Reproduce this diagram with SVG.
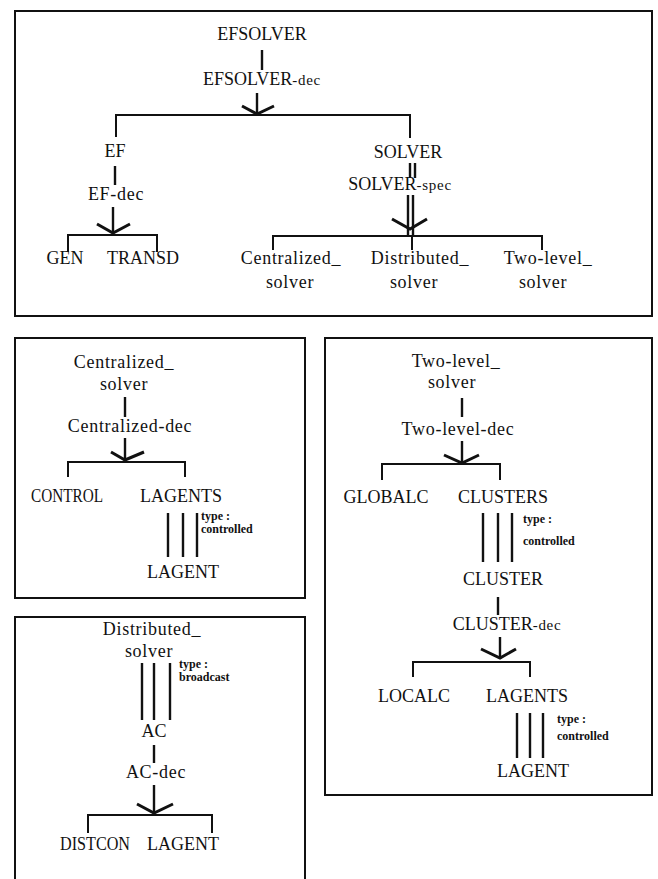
<svg xmlns="http://www.w3.org/2000/svg" width="658" height="879" viewBox="0 0 658 879">
<style>
.box{fill:none;stroke:#111;stroke-width:2}
.t{font-family:"Liberation Serif",serif;font-size:18px;fill:#111;text-anchor:middle}
.w{letter-spacing:0.7px}
.s{font-size:15px}
.lab{font-family:"Liberation Serif",serif;font-size:12px;font-weight:bold;fill:#111}
.ln{fill:none;stroke:#111;stroke-width:2.4}
.br{fill:none;stroke:#111;stroke-width:2}
.ch{fill:none;stroke:#111;stroke-width:3;stroke-linejoin:miter}
</style>
<rect width="658" height="879" fill="#fff"/>
<g id="frames">
<rect class="box" x="15" y="11" width="637" height="305"/>
<rect class="box" x="15" y="338" width="290" height="260"/>
<path class="box" d="M15,879 V617 H305 V879"/>
<rect class="box" x="325" y="338" width="327" height="457"/>
</g>
<g id="connectors">
<path class="ln" d="M262,50 V70"/>
<path class="ln" d="M257,93 V115"/>
<path class="ch" d="M242,106 L257,114 L274,106"/>
<path class="br" d="M116,137 V115 H410 V138"/>
<path class="ln" d="M115,166 V185"/>
<path class="ln" d="M113,207 V234"/>
<path class="ch" d="M97,224 L113,233 L130,224"/>
<path class="br" d="M68,252 V235 H157 V252"/>
<path class="ln" d="M410,163 V178 M415,163 V178"/>
<path class="ln" d="M408,195 V236 M413,195 V236"/>
<path class="ch" d="M392,219 L410,229 L427,219"/>
<path class="br" d="M273,250 V236 H542 V250 M412,236 V250"/>
<path class="ln" d="M125,397 V417"/>
<path class="ln" d="M125,438 V461"/>
<path class="ch" d="M111,452 L125,460 L144,452"/>
<path class="br" d="M68,477 V462 H185 V477"/>
<path class="ln" d="M168,513 V557 M183,513 V557 M197,513 V557"/>
<path class="ln" d="M142,663 V720 M154,663 V720 M170,663 V720"/>
<path class="ln" d="M154,745 V763"/>
<path class="ln" d="M154,785 V814"/>
<path class="ch" d="M137,804 L154,813 L173,804"/>
<path class="br" d="M88,833 V815 H212 V833"/>
<path class="ln" d="M462,398 V417"/>
<path class="ln" d="M462,441 V464"/>
<path class="ch" d="M444,455 L462,463 L479,455"/>
<path class="br" d="M382,480 V464 H500 V480"/>
<path class="ln" d="M483,513 V562 M498,513 V562 M512,513 V562"/>
<path class="ln" d="M498,597 V615"/>
<path class="ln" d="M500,637 V659"/>
<path class="ch" d="M481,649 L500,658 L516,649"/>
<path class="br" d="M413,677 V662 H530 V677"/>
<path class="ln" d="M517,713 V758 M530,713 V758 M543,713 V758"/>
</g>
<g id="n-efsolver"><text class="t" x="262" y="40">EFSOLVER</text></g>
<g id="n-efsolver-dec"><text class="t" x="262" y="85">EFSOLVER<tspan class="s w">-dec</tspan></text></g>
<g id="n-ef"><text class="t" x="115" y="157">EF</text></g>
<g id="n-ef-dec"><text class="t w" x="116" y="200">EF-dec</text></g>
<g id="n-gen"><text class="t" x="65" y="264">GEN</text></g>
<g id="n-transd"><text class="t" x="143" y="264">TRANSD</text></g>
<g id="n-solver"><text class="t" x="408" y="158">SOLVER</text></g>
<g id="n-solver-spec"><text class="t" x="400" y="190">SOLVER<tspan class="s w">-spec</tspan></text></g>
<g id="n-central"><text class="t w" x="291" y="264">Centralized_</text><text class="t w" x="290" y="288">solver</text></g>
<g id="n-distrib"><text class="t w" x="420" y="264">Distributed_</text><text class="t w" x="414" y="288">solver</text></g>
<g id="n-twolevel"><text class="t w" x="548" y="264">Two-level_</text><text class="t w" x="543" y="288">solver</text></g>

<g id="c-central"><text class="t w" x="124" y="368">Centralized_</text><text class="t w" x="124" y="390">solver</text></g>
<g id="c-central-dec"><text class="t w" x="130" y="432">Centralized-dec</text></g>
<g id="c-control"><text class="t" x="67" y="502" textLength="72" lengthAdjust="spacingAndGlyphs">CONTROL</text></g>
<g id="c-lagents"><text class="t" x="181" y="502">LAGENTS</text></g>
<g id="c-label"><text class="lab" x="201" y="520">type :</text><text class="lab" x="201" y="533">controlled</text></g>
<g id="c-lagent"><text class="t" x="183" y="578">LAGENT</text></g>

<g id="d-distrib"><text class="t w" x="152" y="635">Distributed_</text><text class="t w" x="149" y="657">solver</text></g>
<g id="d-label"><text class="lab" x="179" y="668">type :</text><text class="lab" x="179" y="681">broadcast</text></g>
<g id="d-ac"><text class="t" x="154" y="737">AC</text></g>
<g id="d-ac-dec"><text class="t w" x="156" y="778">AC-dec</text></g>
<g id="d-distcon"><text class="t" x="95" y="850" textLength="70" lengthAdjust="spacingAndGlyphs">DISTCON</text></g>
<g id="d-lagent"><text class="t" x="183" y="850">LAGENT</text></g>

<g id="t-twolevel"><text class="t w" x="456" y="367">Two-level_</text><text class="t w" x="452" y="388">solver</text></g>
<g id="t-twolevel-dec"><text class="t w" x="458" y="435">Two-level-dec</text></g>
<g id="t-globalc"><text class="t" x="386" y="503">GLOBALC</text></g>
<g id="t-clusters"><text class="t" x="503" y="503">CLUSTERS</text></g>
<g id="t-label1"><text class="lab" x="523" y="523">type :</text><text class="lab" x="523" y="545">controlled</text></g>
<g id="t-cluster"><text class="t" x="503" y="585">CLUSTER</text></g>
<g id="t-cluster-dec"><text class="t" x="507" y="630">CLUSTER<tspan class="s w">-dec</tspan></text></g>
<g id="t-localc"><text class="t" x="414" y="702">LOCALC</text></g>
<g id="t-lagents"><text class="t" x="527" y="702">LAGENTS</text></g>
<g id="t-label2"><text class="lab" x="557" y="723">type :</text><text class="lab" x="557" y="740">controlled</text></g>
<g id="t-lagent"><text class="t" x="533" y="777">LAGENT</text></g>
</svg>
